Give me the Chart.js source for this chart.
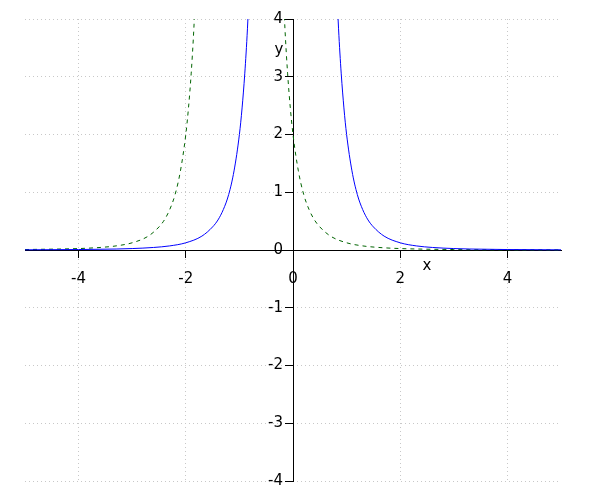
<!DOCTYPE html>
<html>
<head>
<meta charset="UTF-8">
<script src="https://cdn.jsdelivr.net/npm/chart.js"></script>
<style>
  * { margin:0; padding:0; }
  body { background:#fff; }
  #c { display:block; }
</style>
</head>
<body>
<canvas id="c" width="600" height="500"></canvas>
<script>
// values
const xTicks = [-4, -2, 0, 2, 4];
const yTicks = [-4, -3, -2, -1, 0, 1, 2, 3, 4];

const blueLeftX  = [-5, -4, -3.3, -3, -2.6, -2.3, -2, -1.7, -1.5, -1.4, -1.3, -1.2, -1.1, -1, -0.95, -0.9, -0.85, -0.8];
const blueLeftY  = [0.003, 0.008, 0.017, 0.025, 0.044, 0.071, 0.125, 0.24, 0.40, 0.52, 0.70, 0.96, 1.37, 2.0, 2.46, 3.05, 3.83, 4.88];
const blueRightX = [0.8, 0.85, 0.9, 0.95, 1, 1.1, 1.2, 1.3, 1.4, 1.5, 1.7, 2, 2.3, 2.6, 3, 3.3, 4, 5];
const blueRightY = [4.88, 3.83, 3.05, 2.46, 2.0, 1.37, 0.96, 0.70, 0.52, 0.40, 0.24, 0.125, 0.071, 0.044, 0.025, 0.017, 0.008, 0.003];

const greenLeftX  = [-5, -4, -3.6, -3.3, -3, -2.7, -2.5, -2.4, -2.3, -2.2, -2.1, -2, -1.95, -1.9, -1.85, -1.8];
const greenLeftY  = [0.008, 0.025, 0.044, 0.071, 0.125, 0.24, 0.40, 0.52, 0.70, 0.96, 1.37, 2.0, 2.46, 3.05, 3.83, 4.88];
const greenRightX = [-0.2, -0.15, -0.1, -0.05, 0, 0.1, 0.2, 0.3, 0.4, 0.5, 0.7, 1, 1.3, 1.6, 2, 3, 4, 5];
const greenRightY = [4.88, 3.83, 3.05, 2.46, 2.0, 1.37, 0.96, 0.70, 0.52, 0.40, 0.24, 0.125, 0.071, 0.044, 0.025, 0.008, 0.003, 0.0015];

const pts = (xs, ys) => xs.map((x, i) => ({ x, y: ys[i] }));

const blue = { borderColor: '#0000ff', borderWidth: 1, pointRadius: 0, showLine: true, cubicInterpolationMode: 'monotone', fill: false };
const green = { borderColor: '#006400', borderWidth: 1, borderDash: [4, 4], pointRadius: 0, showLine: true, cubicInterpolationMode: 'monotone', fill: false };

const FONT = { family: 'DejaVu Sans', size: 15 };

// y tick labels sit left of the centred axis; axis names next to the axes
const axisText = {
  id: 'axisText',
  afterDraw(chart) {
    const { ctx, scales: { x, y } } = chart;
    const x0 = x.getPixelForValue(0);
    ctx.save();
    ctx.fillStyle = '#000';
    ctx.font = '15px "DejaVu Sans"';
    ctx.textAlign = 'right';
    ctx.textBaseline = 'middle';
    yTicks.forEach(v => ctx.fillText(String(v).replace('-', '-'), x0 - 10, y.getPixelForValue(v)));
    ctx.textAlign = 'center';
    ctx.fillText('x', x.getPixelForValue(2.5), y.getPixelForValue(0) + 16);
    ctx.fillText('y', x0 - 14, y.getPixelForValue(3.46));
    ctx.restore();
  }
};

const gridColor = c => (c.tick && c.tick.value === 0) ? 'rgba(0,0,0,0)' : '#c8c8c8';

new Chart(document.getElementById('c'), {
  type: 'scatter',
  data: {
    datasets: [
      { ...blue, data: pts(blueLeftX, blueLeftY) },
      { ...blue, data: pts(blueRightX, blueRightY) },
      { ...green, data: pts(greenLeftX, greenLeftY) },
      { ...green, data: pts(greenRightX, greenRightY) }
    ]
  },
  options: {
    responsive: false,
    animation: false,
    layout: { padding: { left: 25, right: 39, top: 19, bottom: 19 } },
    plugins: { legend: { display: false }, tooltip: { enabled: false } },
    scales: {
      x: {
        type: 'linear', min: -5, max: 5,
        position: { y: 0 },
        afterBuildTicks: s => { s.ticks = xTicks.map(v => ({ value: v })); },
        ticks: { color: '#000', font: FONT, padding: 13, maxRotation: 0 },
        grid: { color: gridColor, tickColor: '#000', tickLength: 7, lineWidth: 1 },
        border: { display: true, color: '#000', width: 1, dash: [1, 3] }
      },
      y: {
        type: 'linear', min: -4, max: 4,
        position: { x: 0 },
        afterBuildTicks: s => { s.ticks = yTicks.map(v => ({ value: v })); },
        ticks: { display: false },
        grid: { color: gridColor, tickColor: '#000', tickLength: 8, lineWidth: 1 },
        border: { display: true, color: '#000', width: 1, dash: [1, 3] }
      }
    }
  },
  plugins: [axisText]
});
</script>
</body>
</html>
